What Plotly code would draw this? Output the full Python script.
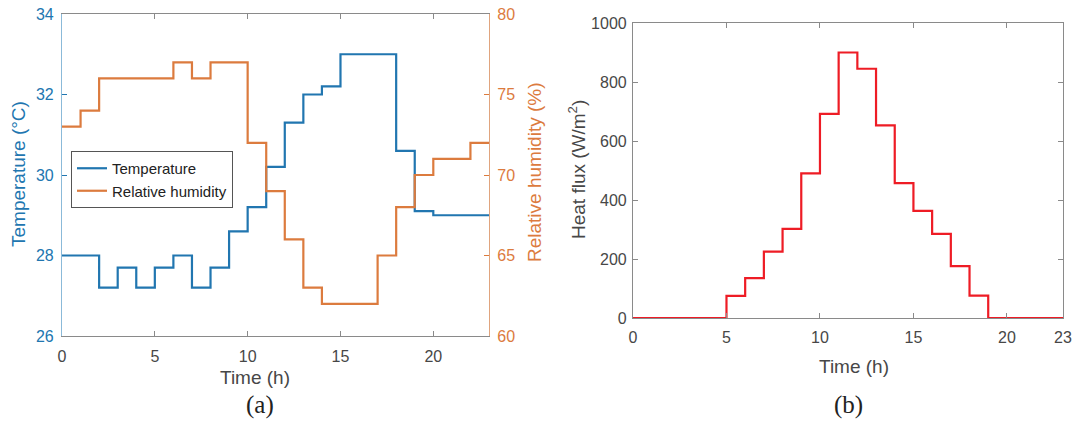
import plotly.graph_objects as go

# Hourly profiles (value held from hour h to h+1; last value repeated at hour 23)
hours = list(range(24))
temperature = [28.0, 28.0, 27.2, 27.7, 27.2, 27.7, 28.0, 27.2, 27.7, 28.6, 29.2, 30.2,
               31.3, 32.0, 32.2, 33.0, 33.0, 33.0, 30.6, 29.1, 29.0, 29.0, 29.0, 29.0]
humidity = [73, 74, 76, 76, 76, 76, 77, 76, 77, 77, 72, 69,
            66, 63, 62, 62, 62, 65, 68, 70, 71, 71, 72, 72]
heat_flux = [0, 0, 0, 0, 0, 75, 135, 225, 302, 490, 692, 900,
             845, 653, 457, 363, 285, 176, 76, 0, 0, 0, 0, 0]

x_ticks_a = [0, 5, 10, 15, 20]
x_ticks_b = [0, 5, 10, 15, 20, 23]
temp_ticks = [26, 28, 30, 32, 34]
hum_ticks = [60, 65, 70, 75, 80]
flux_ticks = [0, 200, 400, 600, 800, 1000]

BLUE = "#2176b0"
ORANGE = "#dc7b3e"
RED = "#ee1c25"
GREY = "#474747"
AXIS = "#8a8a8a"
FONT = "Liberation Sans, Arial, sans-serif"

W, H = 1076, 425


def px_x(v):
    return v / W


def px_y(v):
    return 1 - v / H


fig = go.Figure()

fig.add_trace(go.Scatter(x=hours, y=temperature, name="Temperature", mode="lines",
                         line=dict(color=BLUE, width=2.2, shape="hv"),
                         xaxis="x", yaxis="y"))
fig.add_trace(go.Scatter(x=hours, y=humidity, name="Relative humidity", mode="lines",
                         line=dict(color=ORANGE, width=2.2, shape="hv"),
                         xaxis="x", yaxis="y2"))
fig.add_trace(go.Scatter(x=hours, y=heat_flux, name="Heat flux", mode="lines",
                         line=dict(color=RED, width=2.2, shape="hv"),
                         xaxis="x3", yaxis="y3", showlegend=False))

tick_font = dict(family=FONT, size=16, color=GREY)
common = dict(showgrid=False, zeroline=False, showline=True, linewidth=1.2,
              ticks="inside", ticklen=5, automargin=False)

fig.update_layout(
    template="none",
    width=W, height=H,
    margin=dict(l=0, r=0, t=0, b=0, pad=0),
    paper_bgcolor="white", plot_bgcolor="white",
    font=dict(family=FONT, size=16, color=GREY),
    showlegend=True,
    legend=dict(x=px_x(71), y=px_y(151), xanchor="left", yanchor="top",
                bgcolor="white", bordercolor="#555555", borderwidth=1,
                font=dict(family=FONT, size=15, color="#222222"),
                tracegroupgap=0, itemwidth=30),
    xaxis=dict(domain=[px_x(62), px_x(489)], range=[0, 23], tickvals=x_ticks_a,
               linecolor=AXIS, mirror="ticks", tickcolor=AXIS, tickfont=tick_font,
               ticklabelstandoff=6, anchor="y", **common),
    yaxis=dict(domain=[px_y(336), px_y(14)], range=[26, 34], tickvals=temp_ticks,
               linecolor="#8bbad9", tickcolor=BLUE,
               tickfont=dict(family=FONT, size=16, color=BLUE),
               ticklabelstandoff=4, anchor="x", **common),
    yaxis2=dict(range=[60, 80], tickvals=hum_ticks, overlaying="y", side="right",
                linecolor="#e0a47e", tickcolor=ORANGE,
                tickfont=dict(family=FONT, size=16, color=ORANGE),
                ticklabelstandoff=4, anchor="x", **common),
    xaxis3=dict(domain=[px_x(633), px_x(1063)], range=[0, 23], tickvals=x_ticks_b,
                linecolor=AXIS, mirror="ticks", tickcolor=AXIS, tickfont=tick_font,
                ticklabelstandoff=5, anchor="y3", **common),
    yaxis3=dict(domain=[px_y(318), px_y(23)], range=[0, 1000], tickvals=flux_ticks,
                linecolor=AXIS, mirror="ticks", tickcolor=AXIS, tickfont=tick_font,
                ticklabelstandoff=2, anchor="x3", **common),
)

label_font = dict(family=FONT, size=19, color=GREY)
serif_font = dict(family="Liberation Serif, Times New Roman, serif", size=25, color="#222222")

annotations = [
    dict(text="Time (h)", x=px_x(255), y=px_y(377), font=label_font),
    dict(text="(a)", x=px_x(260), y=px_y(405), font=serif_font),
    dict(text="Time (h)", x=px_x(854), y=px_y(366), font=label_font),
    dict(text="(b)", x=px_x(848), y=px_y(405), font=serif_font),
    dict(text="Temperature (°C)", x=px_x(18), y=px_y(174), textangle=-90,
         font=dict(family=FONT, size=19, color=BLUE)),
    dict(text="Relative humidity (%)", x=px_x(534), y=px_y(172), textangle=-90,
         font=dict(family=FONT, size=19, color=ORANGE)),
    dict(text="Heat flux (W/m<sup>2</sup>)", x=px_x(577), y=px_y(170), textangle=-90,
         font=label_font),
]
for a in annotations:
    a.update(xref="paper", yref="paper", showarrow=False, xanchor="center", yanchor="middle")
fig.update_layout(annotations=annotations)

fig.write_html("out.html")
